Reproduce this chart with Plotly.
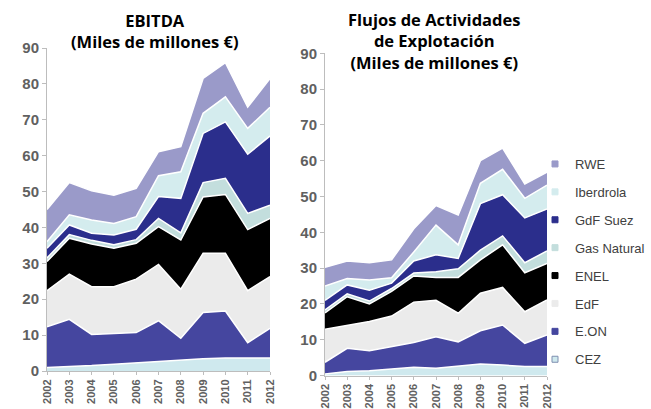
import plotly.graph_objects as go

years = [2002, 2003, 2004, 2005, 2006, 2007, 2008, 2009, 2010, 2011, 2012]
companies = ["CEZ", "E.ON", "EdF", "ENEL", "Gas Natural", "GdF Suez", "Iberdrola", "RWE"]

# EBITDA (miles de millones €)
ebitda_cez = [1.0, 1.2, 1.5, 1.9, 2.3, 2.8, 3.2, 3.4, 3.6, 3.6, 3.6]
ebitda_eon = [11.3, 13.2, 8.7, 8.6, 8.4, 11.2, 5.9, 12.9, 13.1, 4.3, 8.3]
ebitda_edf = [10.1, 12.6, 13.3, 13.0, 14.9, 15.7, 13.7, 16.5, 16.1, 14.5, 14.4]
ebitda_enel = [8.1, 10.0, 11.9, 10.7, 10.0, 10.5, 13.7, 15.7, 16.4, 17.0, 16.2]
ebitda_gasnat = [1.0, 1.0, 1.0, 1.0, 1.0, 2.3, 2.0, 4.0, 4.5, 4.5, 3.7]
ebitda_gdf = [2.7, 2.7, 2.0, 2.7, 2.9, 6.1, 9.6, 13.7, 15.7, 16.5, 19.3]
ebitda_iber = [1.8, 2.8, 3.7, 3.2, 3.5, 5.8, 7.4, 5.6, 7.0, 7.2, 8.0]
ebitda_rwe = [9.0, 9.0, 8.1, 7.9, 7.9, 6.7, 7.0, 9.7, 9.5, 5.9, 8.0]

# Flujos de actividades de explotación (miles de millones €)
flujo_cez = [0.4, 1.1, 1.3, 1.7, 2.3, 2.0, 2.7, 3.2, 2.9, 2.5, 2.5]
flujo_eon = [3.3, 6.5, 5.6, 6.3, 6.9, 8.8, 6.7, 9.3, 11.2, 6.5, 8.8]
flujo_edf = [9.2, 6.5, 8.2, 8.6, 11.3, 10.2, 8.0, 10.5, 10.5, 8.8, 9.8]
flujo_enel = [4.6, 7.9, 4.9, 6.9, 7.3, 6.4, 10.0, 9.3, 11.9, 10.9, 10.2]
flujo_gasnat = [0.8, 0.8, 0.8, 0.8, 0.8, 1.6, 2.4, 2.7, 2.5, 2.8, 3.5]
flujo_gdf = [2.7, 2.5, 3.0, 1.5, 3.4, 4.7, 2.9, 13.0, 11.5, 12.5, 11.7]
flujo_iber = [4.0, 1.8, 2.9, 1.5, 2.5, 8.3, 3.8, 5.7, 7.1, 5.5, 6.7]
flujo_rwe = [5.2, 4.9, 4.8, 5.0, 6.5, 5.5, 8.3, 6.3, 5.9, 4.0, 3.6]

y_ticks = [0, 10, 20, 30, 40, 50, 60, 70, 80, 90]
title_left = "<b>EBITDA</b><br><b>(Miles de millones €)</b>"
title_right = "<b>Flujos de Actividades</b><br><b>de Explotación</b><br><b>(Miles de millones €)</b>"

colors = {
    "CEZ": "#cfe9ee",
    "E.ON": "#45469f",
    "EdF": "#ebebeb",
    "ENEL": "#000000",
    "Gas Natural": "#c3dedd",
    "GdF Suez": "#2b2e8c",
    "Iberdrola": "#d4ecee",
    "RWE": "#9a9ac9",
}

ebitda = [ebitda_cez, ebitda_eon, ebitda_edf, ebitda_enel, ebitda_gasnat, ebitda_gdf, ebitda_iber, ebitda_rwe]
flujo = [flujo_cez, flujo_eon, flujo_edf, flujo_enel, flujo_gasnat, flujo_gdf, flujo_iber, flujo_rwe]

W, H = 651, 409
def px_x(p):
    return p / W
def px_y(p):
    return 1 - p / H

fig = go.Figure()
for name, vals in zip(companies, ebitda):
    fig.add_trace(go.Scatter(x=years, y=vals, name=name, stackgroup="a", mode="lines",
                             line=dict(color="white", width=1.5), fillcolor=colors[name],
                             showlegend=False, xaxis="x", yaxis="y"))
for name, vals in zip(companies, flujo):
    fig.add_trace(go.Scatter(x=years, y=vals, name=name, stackgroup="b", mode="lines",
                             line=dict(color="white", width=1.5), fillcolor=colors[name],
                             showlegend=False, xaxis="x2", yaxis="y2"))
# legend entries (top to bottom)
for name in companies[::-1]:
    fig.add_trace(go.Scatter(x=[None], y=[None], name=name, mode="markers",
                             marker=dict(symbol="square", size=6, color=colors[name],
                                         line=dict(color="#7f8fb0" if name == "CEZ" else colors[name], width=1)),
                             showlegend=True, legendgroup=name, xaxis="x2", yaxis="y2"))

tickfont_y = dict(family="Liberation Sans, Arial", size=15, color="#606060", weight="bold")
tickfont_x = dict(family="Liberation Sans, Arial", size=11, color="#606060", weight="bold")

def xaxis(dom):
    return dict(domain=dom, range=[2002, 2012], tickvals=years, ticktext=[str(y) for y in years],
                tickangle=-90, showline=True, linecolor="#bdbdbd", linewidth=1,
                ticks="outside", ticklen=3, tickcolor="#bdbdbd", showgrid=False, zeroline=False,
                tickfont=tickfont_x, fixedrange=True, automargin=False)

def yaxis(dom, anchor):
    return dict(domain=dom, range=[0, 90], tickvals=y_ticks, showline=True, linecolor="#bdbdbd",
                linewidth=1, ticks="outside", ticklen=4, tickcolor="#bdbdbd", showgrid=False,
                zeroline=False, tickfont=tickfont_y, anchor=anchor, fixedrange=True, automargin=False)

fig.update_layout(
    template="none",
    width=W, height=H,
    margin=dict(l=0, r=0, t=0, b=0, autoexpand=False),
    paper_bgcolor="white", plot_bgcolor="white",
    xaxis=xaxis([px_x(47), px_x(270)]) | dict(anchor="y"),
    yaxis=yaxis([px_y(371), px_y(48)], "x"),
    xaxis2=xaxis([px_x(325), px_x(547)]) | dict(anchor="y2"),
    yaxis2=yaxis([px_y(375.5), px_y(53.3)], "x2"),
    showlegend=True,
    legend=dict(x=px_x(535), y=px_y(149), xanchor="left", yanchor="top",
                font=dict(family="Liberation Sans, Arial", size=13, color="#404040"),
                tracegroupgap=8, itemwidth=30, bgcolor="rgba(0,0,0,0)"),
    annotations=[
        dict(text=title_left, x=px_x(155), y=px_y(7), xref="paper", yref="paper",
             xanchor="center", yanchor="top", showarrow=False, align="center",
             font=dict(family="Open Sans", size=16.5, color="#000000")),
        dict(text=title_right, x=px_x(434), y=px_y(6), xref="paper", yref="paper",
             xanchor="center", yanchor="top", showarrow=False, align="center",
             font=dict(family="Open Sans", size=16.5, color="#000000")),
    ],
)

fig.write_html("out.html", config={"displayModeBar": False},
               post_script="document.body.style.margin='0';document.body.style.overflow='hidden';")
